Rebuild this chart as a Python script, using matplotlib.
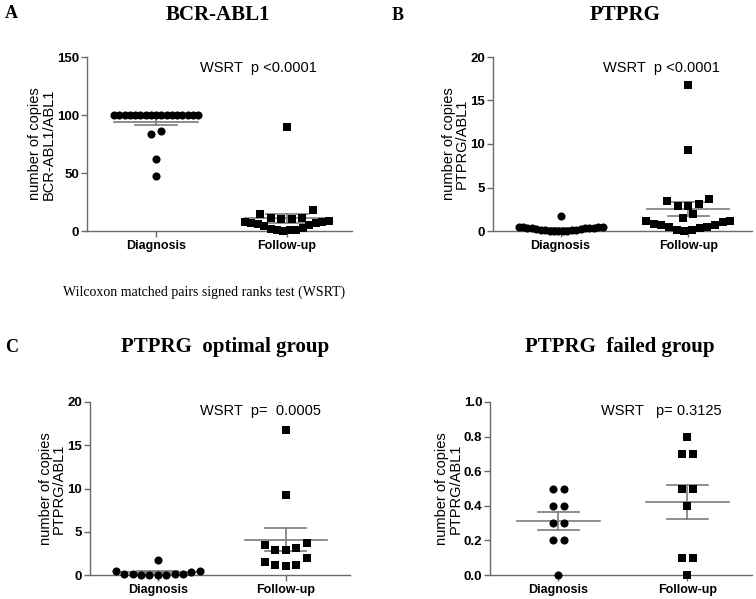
import numpy as np
import matplotlib
matplotlib.use("Agg")
import matplotlib.pyplot as plt

plt.rcParams['font.family'] = ['Liberation Sans', 'DejaVu Sans']

# ---------------- data ----------------
categories = ["Diagnosis", "Follow-up"]

a_diagnosis = [100, 100, 100, 100, 100, 100, 100, 100, 100, 100, 100, 100,
               100, 100, 100, 100, 100, 86, 84, 62, 47]
a_followup = [0, 0.5, 1, 1, 2, 3, 4, 5, 6, 7, 7, 8, 8, 9,
              10.5, 10.5, 11, 11, 15, 18, 90]

b_diagnosis = [0.45, 0.4, 0.1, 0.1, 0.05, 0.0, 0.05, 0.05, 0.1, 0.15, 0.45, 1.7,
               0.5, 0.5, 0.4, 0.4, 0.3, 0.3, 0.2, 0.2, 0.0]
b_followup = [16.8, 9.3, 3.7, 3.5, 3.1, 2.9, 2.9, 2.0, 1.5, 1.2, 1.1, 1.0,
              0.8, 0.7, 0.7, 0.5, 0.5, 0.4, 0.1, 0.1, 0.0]

c_diagnosis = [0.45, 0.4, 0.1, 0.1, 0.05, 0.0, 0.05, 0.05, 0.1, 0.15, 0.45, 1.7]
c_followup = [16.8, 9.3, 3.7, 3.5, 3.1, 2.9, 2.9, 2.0, 1.5, 1.2, 1.1, 1.0]

d_diagnosis = [0.5, 0.5, 0.4, 0.4, 0.3, 0.3, 0.2, 0.2, 0.0]
d_followup = [0.8, 0.7, 0.7, 0.5, 0.5, 0.4, 0.1, 0.1, 0.0]

a_yticks = [0, 50, 100, 150]
a_yticklabels = ["0", "50", "100", "150"]
b_yticks = [0, 5, 10, 15, 20]
b_yticklabels = ["0", "5", "10", "15", "20"]
d_yticks = [0.0, 0.2, 0.4, 0.6, 0.8, 1.0]
d_yticklabels = ["0.0", "0.2", "0.4", "0.6", "0.8", "1.0"]

titles = ["BCR-ABL1", "PTPRG", "PTPRG  optimal group", "PTPRG  failed group"]
ylabels = ["number of copies\nBCR-ABL1/ABL1", "number of copies\nPTPRG/ABL1",
           "number of copies\nPTPRG/ABL1", "number of copies\nPTPRG/ABL1"]
stats = ["WSRT  p <0.0001", "WSRT  p <0.0001", "WSRT  p=  0.0005", "WSRT   p= 0.3125"]
footnote = "Wilcoxon matched pairs signed ranks test (WSRT)"

# ---------------- layout ----------------
W, H = 756, 599
fig = plt.figure(figsize=(W / 100, H / 100), dpi=100)


def rect(l, t, r, b):
    return [l / W, 1 - b / H, (r - l) / W, (b - t) / H]


GRAY = "#7c7c7c"
SPINE = "#6a6a6a"


def swarm_offsets(ax, values, bin_px=12.0, step_px=10.5, max_row_px=84.0):
    vals = np.asarray(values, float)
    ypx = ax.transData.transform(np.column_stack([np.zeros_like(vals), vals]))[:, 1]
    bins = np.floor((ypx - ypx.min()) / bin_px + 1e-6).astype(int)
    offs = np.zeros_like(vals)
    for b in np.unique(bins):
        idx = np.where(bins == b)[0]
        idx = idx[np.argsort(vals[idx], kind="stable")]
        n = len(idx)
        step = step_px if n < 2 else min(step_px, max_row_px / (n - 1))
        slots = np.arange(n) - (n - 1) / 2
        order = sorted(range(n), key=lambda i: (abs(slots[i]), slots[i]))
        for k, i in enumerate(idx):
            offs[i] = slots[order[k]] * step
    x0 = ax.transData.transform((0, 0))[0]
    x1 = ax.transData.transform((1, 0))[0]
    return offs / (x1 - x0)


panels = [
    dict(r=(87, 57, 352, 231), diag=a_diagnosis, fu=a_followup, ylim=(0, 150),
         yt=a_yticks, ytl=a_yticklabels, stat_y=0.937),
    dict(r=(493, 57, 752, 231), diag=b_diagnosis, fu=b_followup, ylim=(0, 20),
         yt=b_yticks, ytl=b_yticklabels, stat_y=0.937),
    dict(r=(90, 402, 350, 575), diag=c_diagnosis, fu=c_followup, ylim=(0, 20),
         yt=b_yticks, ytl=b_yticklabels, stat_y=0.948),
    dict(r=(490, 402, 752, 575), diag=d_diagnosis, fu=d_followup, ylim=(0, 1.0),
         yt=d_yticks, ytl=d_yticklabels, stat_y=0.948),
]

for p, title, ylab, stat in zip(panels, titles, ylabels, stats):
    ax = fig.add_axes(rect(*p["r"]))
    ax.set_xlim(-0.53, 1.5)
    ax.set_ylim(*p["ylim"])
    for s in ("top", "right"):
        ax.spines[s].set_visible(False)
    for s in ("left", "bottom"):
        ax.spines[s].set_color(SPINE)
        ax.spines[s].set_linewidth(1.0)
    ax.set_yticks(p["yt"])
    ax.set_yticklabels(p["ytl"], fontsize=9.5, fontweight="bold")
    ax.set_xticks([0, 1])
    ax.set_xticklabels(categories, fontsize=9, fontweight="bold")
    ax.tick_params(axis="both", direction="out", length=4, width=1.0, color=SPINE, pad=1.5)
    ax.tick_params(axis="x", pad=2.5)
    ax.set_ylabel(ylab, fontsize=10.5, linespacing=0.95, labelpad=1)

    for xi, (vals, marker, size) in enumerate([(p["diag"], "o", 34), (p["fu"], "s", 30)]):
        v = np.asarray(vals, float)
        m = v.mean()
        se = v.std(ddof=1) / np.sqrt(len(v))
        ax.plot([xi - 0.32, xi + 0.32], [m, m], color=GRAY, lw=1.2, zorder=2)
        ax.plot([xi, xi], [m - se, m + se], color=GRAY, lw=1.2, zorder=2)
        for yy in (m - se, m + se):
            ax.plot([xi - 0.16, xi + 0.16], [yy, yy], color=GRAY, lw=1.2, zorder=2)
        offs = swarm_offsets(ax, v)
        ax.scatter(xi + offs, v, marker=marker, s=size, color="black",
                   linewidths=0, zorder=3, clip_on=False)

    ax.text(0.425, p["stat_y"], stat, transform=ax.transAxes, fontsize=10.5,
            ha="left", va="center")

serif = ['Liberation Serif', 'DejaVu Serif']
title_pos = [(218, 15), (625, 15), (225, 347), (620, 347)]
for (tx, ty), t in zip(title_pos, titles):
    fig.text(tx / W, 1 - ty / H, t, ha="center", va="center", fontsize=15,
             fontweight="bold", family=serif)

for (lx, ly), letter in zip([(5, 13), (392, 15), (5, 347)], ["A", "B", "C"]):
    fig.text(lx / W, 1 - ly / H, letter, ha="left", va="center", fontsize=13,
             fontweight="bold", family=serif)

fig.text(63 / W, 1 - 292 / H, footnote, ha="left", va="center", fontsize=10,
         family=serif)

fig.savefig("out.png", dpi=100)
